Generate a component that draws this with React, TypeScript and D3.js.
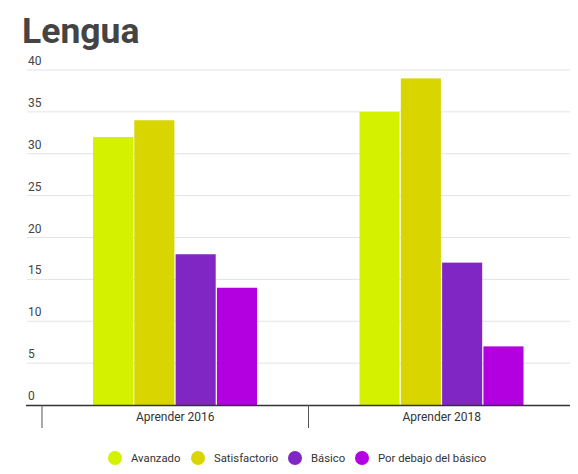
import { useEffect, useRef } from "react";
import * as d3 from "d3";

const categories = ["Aprender 2016", "Aprender 2018"];
const seriesNames = ["Avanzado", "Satisfactorio", "Básico", "Por debajo del básico"];
const seriesColors = ["#d4f200", "#d9d500", "#8026c4", "#b200e0"];
const avanzado = [32, 35];
const satisfactorio = [34, 39];
const basico = [18, 17];
const porDebajo = [14, 7];
const yTicks = [0, 5, 10, 15, 20, 25, 30, 35, 40];

const W = 578;
const H = 474;

const App = () => {
  const ref = useRef(null);

  useEffect(() => {
    const svg = d3.select(ref.current).html("");
    const font = "Roboto, 'Noto Sans', sans-serif";
    const values = [avanzado, satisfactorio, basico, porDebajo];

    // Title
    svg
      .append("text")
      .attr("x", 22)
      .attr("y", 43)
      .attr("font-family", font)
      .attr("font-weight", "bold")
      .attr("font-size", 35.5)
      .attr("fill", "#444")
      .text("Lengua");

    const y = d3.scaleLinear().domain([0, 40]).range([405, 70]);
    const x0 = d3.scaleBand().domain(categories).range([42, 575]);
    const x1 = d3
      .scaleBand()
      .domain(seriesNames)
      .range([51, 215])
      .paddingInner(0.03);

    // Gridlines + labels
    const grid = svg.append("g");
    yTicks.forEach((t) => {
      if (t > 0) {
        grid
          .append("line")
          .attr("x1", 27)
          .attr("x2", 575)
          .attr("y1", y(t))
          .attr("y2", y(t))
          .attr("stroke", "#e3e3e3")
          .attr("stroke-width", 1);
      }
      grid
        .append("text")
        .attr("x", 28)
        .attr("y", y(t) - 5)
        .attr("font-family", font)
        .attr("font-size", 12)
        .attr("fill", "#444")
        .text(t);
    });

    // Bars
    categories.forEach((c, ci) => {
      const g = svg.append("g").attr("transform", `translate(${x0(c)},0)`);
      seriesNames.forEach((s, si) => {
        const v = values[si][ci];
        g.append("rect")
          .attr("x", x1(s))
          .attr("y", y(v))
          .attr("width", x1.bandwidth())
          .attr("height", y(0) - y(v))
          .attr("fill", seriesColors[si]);
      });
    });

    // Axis
    svg
      .append("line")
      .attr("x1", 26)
      .attr("x2", 578)
      .attr("y1", y(0) + 0.5)
      .attr("y2", y(0) + 0.5)
      .attr("stroke", "#333")
      .attr("stroke-width", 1.5);
    const ticks = [42, ...categories.map((c) => x0(c) + x0.bandwidth())];
    ticks.forEach((tx) => {
      svg
        .append("line")
        .attr("x1", tx)
        .attr("x2", tx)
        .attr("y1", y(0))
        .attr("y2", 428)
        .attr("stroke", "#555")
        .attr("stroke-width", 1);
    });
    categories.forEach((c) => {
      svg
        .append("text")
        .attr("x", x0(c) + x0.bandwidth() / 2)
        .attr("y", 421)
        .attr("text-anchor", "middle")
        .attr("font-family", font)
        .attr("font-size", 12)
        .attr("fill", "#333")
        .text(c);
    });

    // Legend
    const legendX = [115, 198, 295, 362];
    seriesNames.forEach((s, i) => {
      svg
        .append("circle")
        .attr("cx", legendX[i])
        .attr("cy", 458)
        .attr("r", 7)
        .attr("fill", seriesColors[i]);
      svg
        .append("text")
        .attr("x", legendX[i] + 16)
        .attr("y", 462)
        .attr("font-family", font)
        .attr("font-size", 11.3)
        .attr("fill", "#333")
        .text(s);
    });
  }, []);

  return <svg ref={ref} width={W} height={H} style={{ display: "block", margin: -8 }}></svg>;
};

export default App;
